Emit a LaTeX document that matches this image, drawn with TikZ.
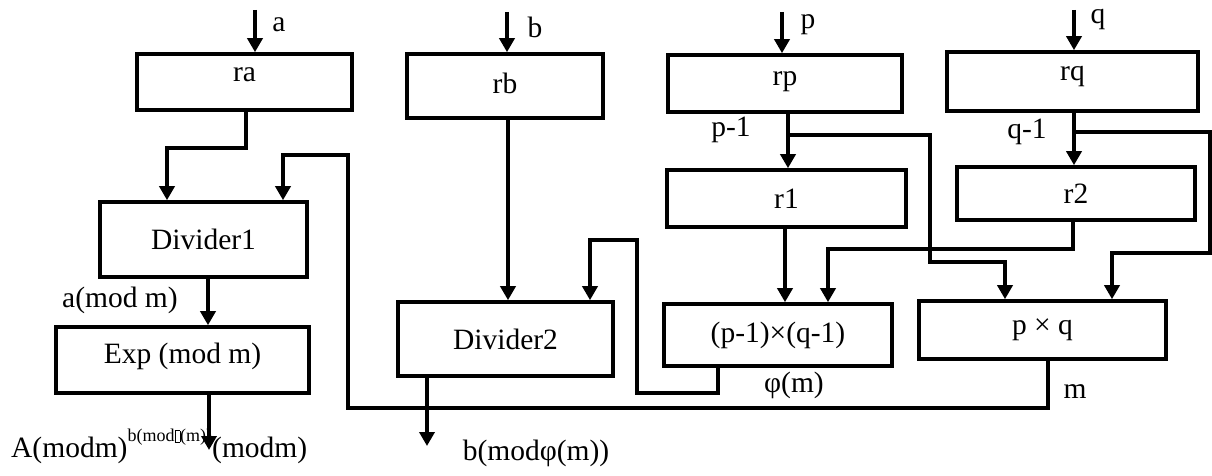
\documentclass[tikz,border=0pt]{standalone}
\usepackage{fontspec}
\setmainfont{Liberation Serif}
\usetikzlibrary{arrows.meta}
\newcommand{\missingglyph}{{\setlength{\fboxsep}{0pt}\setlength{\fboxrule}{0.6pt}\fbox{\rule{4.5pt}{0pt}\rule[-1pt]{0pt}{11pt}}}}
\newcommand{\lifttext}[2]{\raisebox{#1}[\height][\depth]{#2}}
\begin{document}
\begin{tikzpicture}[x=1pt,y=-1pt,
  ln/.style={line width=4pt},
  arr/.style={ln,-{Triangle[length=14pt,width=15pt]}},
  box/.style={draw,line width=3.6pt,inner sep=0pt,font=\fontsize{29.5}{34}\selectfont},
  lbl/.style={inner sep=0pt,font=\fontsize{29.5}{34}\selectfont}]
\useasboundingbox (0,0) rectangle (1212,476);
% boxes
\node[box,minimum width=215pt,minimum height=56pt] (ra) at (244.5,82) {\lifttext{7pt}{ra}};
\node[box,minimum width=196pt,minimum height=64pt] (rb) at (505,86) {\lifttext{3pt}{rb}};
\node[box,minimum width=234pt,minimum height=57pt] (rp) at (785,83.5) {\lifttext{2pt}{rp}};
\node[box,minimum width=251pt,minimum height=59pt] (rq) at (1072.5,81.5) {\lifttext{5pt}{rq}};
\node[box,minimum width=239pt,minimum height=57pt] (r1) at (786.5,198.5) {r1};
\node[box,minimum width=238pt,minimum height=53pt] (r2) at (1076,193.5) {r2};
\node[box,minimum width=207pt,minimum height=75pt] (d1) at (203.5,239.5) {Divider1};
\node[box,minimum width=215pt,minimum height=74pt] (d2) at (505.5,339) {Divider2};
\node[box,minimum width=228pt,minimum height=62pt] (phi) at (778,335) {(p-1)×(q-1)};
\node[box,minimum width=247pt,minimum height=58pt] (pq) at (1042.5,330) {p × q};
\node[box,minimum width=253pt,minimum height=66pt] (exp) at (182.5,360) {\lifttext{4pt}{Exp (mod m)}};
% inputs
\coordinate (ain) at (255,10);
\coordinate (bin) at (507,12);
\coordinate (pin) at (782,12);
\coordinate (qin) at (1074,10);
\draw[arr] (ain) -- (ain |- ra.north);
\draw[arr] (bin) -- (bin |- rb.north);
\draw[arr] (pin) -- (pin |- rp.north);
\draw[arr] (qin) -- (qin |- rq.north);
\node[lbl] (la) at (279,25) {a};
\node[lbl] (lb) at (535,27) {b};
\node[lbl] (lp) at (808,25) {p};
\node[lbl] (lq) at (1098,20) {q};
% ra -> Divider1
\draw[arr] (246,0 |- ra.south) -- (246,148) -| (167,0 |- d1.north);
% m loop
\draw[arr] (1048,0 |- pq.south) -- (1048,408) -- (348,408) -- (348,155) -| (283,0 |- d1.north);
\node[lbl] (lm) at (1075,392) {m};
% Divider1 -> Exp
\draw[arr] (208,0 |- d1.south) -- (208,0 |- exp.north);
\node[lbl] (lam) at (120,300) {a(mod m)};
% Exp -> output
\coordinate (aout) at (209,450);
\draw[arr] (209,0 |- exp.south) -- (aout);
\node[lbl,anchor=base west] (lA) at (11,457) {A(modm)\raisebox{16pt}{\fontsize{18}{18}\selectfont b(mod\missingglyph(m))}(modm)};
% rb -> Divider2
\draw[arr] (508,0 |- rb.south) -- (508,0 |- d2.north);
% phi -> Divider2
\draw[arr] (718,0 |- phi.south) -- (718,393) -- (637,393) -- (637,240) -| (590,0 |- d2.north);
\node[lbl] (lphi) at (794,385) {φ(m)};
% Divider2 -> output
\coordinate (bout) at (427,446);
\draw[arr] (427,0 |- d2.south) -- (bout);
\node[lbl] (lbm) at (536,453) {b(modφ(m))};
% rp -> r1, branch
\draw[arr] (788,0 |- rp.south) -- (788,0 |- r1.north);
\coordinate (pj) at (788,135);
\draw[arr] (pj) -- (930,135) -- (930,262) -| (1005,0 |- pq.north);
\node[lbl] (lp1) at (731,130) {p-1};
% r1 -> phi
\draw[arr] (785,0 |- r1.south) -- (785,0 |- phi.north);
% r2 -> phi
\draw[arr] (1073,0 |- r2.south) -- (1073,249) -| (828,0 |- phi.north);
% rq -> r2, branch
\draw[arr] (1074,0 |- rq.south) -- (1074,0 |- r2.north);
\coordinate (qj) at (1074,132);
\draw[arr] (qj) -- (1210,132) -- (1210,253) -| (1112,0 |- pq.north);
\node[lbl] (lq1) at (1027,132) {q-1};
\end{tikzpicture}
\end{document}
